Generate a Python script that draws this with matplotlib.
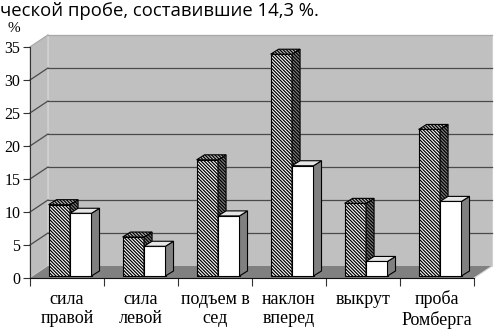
import matplotlib
matplotlib.use("Agg")
import matplotlib.pyplot as plt
from matplotlib.patches import Polygon

categories = ["сила\nправой", "сила\nлевой", "подъем в\nсед", "наклон\nвперед", "выкрут", "проба\nРомберга"]
series_hatched = [10.8, 5.9, 17.6, 33.6, 11.0, 22.2]
series_white = [9.5, 4.5, 9.1, 16.7, 2.2, 11.3]
yticks = [0, 5, 10, 15, 20, 25, 30, 35]
title_text = "ческой пробе, составившие 14,3 %."

W, H = 494, 329
fig = plt.figure(figsize=(W / 100, H / 100), dpi=100)
ax_l, ax_r, ax_t, ax_b = 30, 474, 47, 278
ax = fig.add_axes([ax_l / W, (H - ax_b) / H, (ax_r - ax_l) / W, (ax_b - ax_t) / H])
ax.set_xlim(-0.5, 5.5)
ax.set_ylim(0, 35)
ax.patch.set_alpha(0)

pxx = (ax_r - ax_l) / 6.0
pxy = (ax_b - ax_t) / 35.0
DX, DY = 18 / pxx, 12 / pxy          # wall depth
bdx, bdy = 8 / pxx, 5 / pxy          # bar depth
f = 0.17                              # bar front depth fraction
x0, x1 = -0.5, 5.5
ymax = 35

# walls
ax.add_patch(Polygon([(x0, 0), (x0 + DX, DY), (x0 + DX, ymax + DY), (x0, ymax)],
                     closed=True, fc="#bdbdbd", ec="#d8d8d8", lw=0.8, zorder=0, clip_on=False))
ax.add_patch(Polygon([(x0 + DX, DY), (x1 + DX, DY), (x1 + DX, ymax + DY), (x0 + DX, ymax + DY)],
                     closed=True, fc="#c0c0c0", ec="#d0d0d0", lw=0.8, zorder=0, clip_on=False))
ax.add_patch(Polygon([(x0, 0), (x1, 0), (x1 + DX, DY), (x0 + DX, DY)],
                     closed=True, fc="#808080", ec="none", zorder=1, clip_on=False))
ax.plot([x1, x1 + DX], [0, DY], color="#d0d0d0", lw=0.8, zorder=1, clip_on=False)

for v in yticks[1:]:
    c = "#4a4a4a" if v < ymax else "#a8a8a8"
    ax.plot([x0 + DX, x1 + DX], [v + DY, v + DY], color=c, lw=0.9, zorder=1, clip_on=False)
    ax.plot([x0, x0 + DX], [v, v + DY], color=c, lw=0.9, zorder=1, clip_on=False)

bw = 0.29
xs = list(range(len(categories)))

HATCH = "\\" * 10


def bar3d(xl, val, front_fc, side_fc, top_fc, hatch, z):
    b = f * DY
    xl = xl + f * DX
    ax.bar([xl], [val], width=bw, bottom=b, align="edge", color=front_fc,
           edgecolor="black", linewidth=0.8, hatch=hatch, zorder=z)
    side = [(xl + bw, b), (xl + bw + bdx, b + bdy), (xl + bw + bdx, b + val + bdy), (xl + bw, b + val)]
    top = [(xl, b + val), (xl + bw, b + val), (xl + bw + bdx, b + val + bdy), (xl + bdx, b + val + bdy)]
    ax.add_patch(Polygon(side, closed=True, fc=side_fc, ec="black", lw=0.8, hatch=hatch, zorder=z))
    ax.add_patch(Polygon(top, closed=True, fc=top_fc, ec="black", lw=0.8, hatch=hatch, zorder=z))


plt.rcParams["hatch.linewidth"] = 0.9
z = 3
for i in xs:
    bar3d(i - bw, series_hatched[i], "white", "#808080", "#c0c0c0", HATCH, z)
    z += 1
    bar3d(i, series_white[i], "white", "#808080", "#e6e6e6", None, z)
    z += 1

# axes
for s in ["top", "right"]:
    ax.spines[s].set_visible(False)
ax.spines["left"].set_color("#333333")
ax.spines["bottom"].set_color("#111111")
ax.spines["left"].set_zorder(20)
ax.spines["bottom"].set_zorder(20)
ax.set_yticks(yticks)
ax.set_yticklabels([str(v) for v in yticks], family="Liberation Serif", fontsize=11.5)
ax.tick_params(axis="y", length=5, width=0.8, color="#333333", pad=2)
ax.set_xticks([x - 0.5 for x in xs] + [5.5])
ax.set_xticklabels([""] * 7)
ax.tick_params(axis="x", which="major", length=6, width=0.8, color="#333333")
ax.set_xticks(xs, minor=True)
ax.set_xticklabels(categories, minor=True, family="Liberation Serif", fontsize=13, linespacing=1.16)
ax.tick_params(axis="x", which="minor", length=0, pad=9)

fig.text(14 / W, 1 - 28 / H, "%", family="Liberation Serif", fontsize=11, ha="center", va="center")
fig.text(0, 1 - 11 / H, title_text, family="Open Sans", fontsize=13.3, ha="left", va="center")

fig.savefig("out.png", dpi=100, facecolor="white")
